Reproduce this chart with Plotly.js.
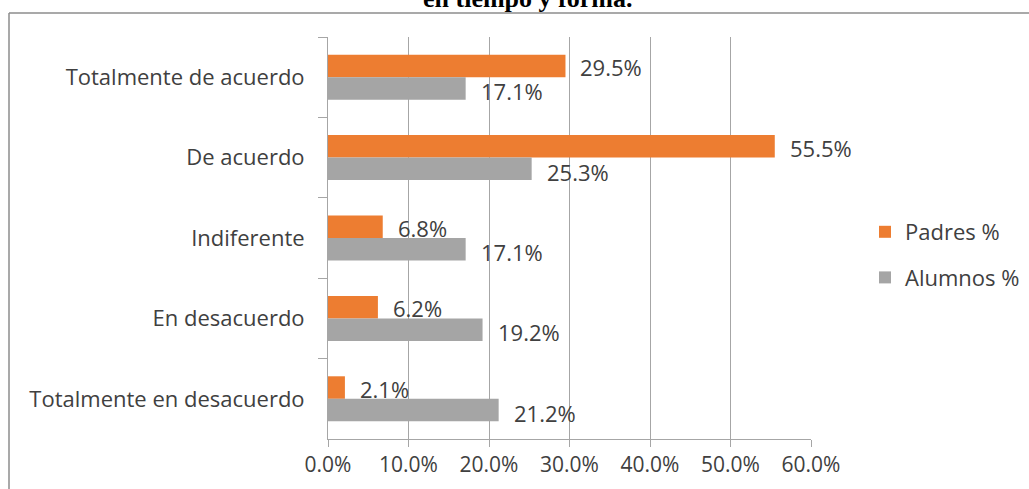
<!DOCTYPE html>
<html>
<head>
<meta charset="utf-8">
<script src="https://cdn.plot.ly/plotly-3.0.1.min.js"></script>
<style>html,body{margin:0;padding:0;background:#fff;}#chart{width:1029px;height:489px;}</style>
</head>
<body>
<div id="chart"></div>
<script>
const categories = ['Totalmente de acuerdo', 'De acuerdo', 'Indiferente', 'En desacuerdo', 'Totalmente en desacuerdo'];
const padres = [29.5, 55.5, 6.8, 6.2, 2.1];
const alumnos = [17.1, 25.3, 17.1, 19.2, 21.2];
const seriesNames = ['Padres %', 'Alumnos %'];
const xTicks = [0, 10, 20, 30, 40, 50, 60];
const titleText = 'en tiempo y forma.';

const FONT = 'Open Sans, Noto Sans, sans-serif';
const TXT = '#404040';
const ORANGE = '#ED7D31';
const GRAY = '#A5A5A5';

const L = 328, R = 811, T = 37, B = 439, W = 1029, H = 489;
const px = v => (v - L) / (R - L);
const py = v => (B - v) / (B - T);

const traces = [
  {type: 'bar', orientation: 'h', name: seriesNames[0], y: categories, x: padres,
   marker: {color: ORANGE}, legendgroup: 'a', hoverinfo: 'x+y'},
  {type: 'bar', orientation: 'h', name: seriesNames[1], y: categories, x: alumnos,
   marker: {color: GRAY}, legendgroup: 'b', hoverinfo: 'x+y'}
];

const annotations = [];
padres.forEach((v, i) => annotations.push({
  x: v, y: categories[i], xref: 'x', yref: 'y', text: v.toFixed(1) + '%',
  showarrow: false, xanchor: 'left', yanchor: 'middle', xshift: 13, yshift: 10,
  font: {family: FONT, size: 22, color: TXT}
}));
alumnos.forEach((v, i) => annotations.push({
  x: v, y: categories[i], xref: 'x', yref: 'y', text: v.toFixed(1) + '%',
  showarrow: false, xanchor: 'left', yanchor: 'middle', xshift: 13, yshift: -14,
  font: {family: FONT, size: 22, color: TXT}
}));
annotations.push({
  x: px(527), y: py(9), xref: 'paper', yref: 'paper', text: '<b>' + titleText + '</b>',
  showarrow: false, xanchor: 'center', yanchor: 'bottom', yshift: -6,
  font: {family: 'Liberation Serif, Times New Roman, serif', size: 26, color: '#000'}
});

const layout = {
  width: W, height: H,
  margin: {l: L, r: W - R, t: T, b: H - B, pad: 0},
  paper_bgcolor: '#fff', plot_bgcolor: '#fff',
  barmode: 'group', bargap: 0.44, bargroupgap: 0,
  font: {family: FONT, size: 22, color: TXT},
  showlegend: true,
  legend: {xref: 'container', yref: 'container', x: 865 / W, xanchor: 'left', y: 1 - 211 / H, yanchor: 'top',
           traceorder: 'grouped', tracegroupgap: 14,
           font: {family: FONT, size: 22, color: TXT}, bgcolor: 'rgba(0,0,0,0)'},
  xaxis: {range: [0, 60], tickvals: xTicks, ticktext: xTicks.map(v => v.toFixed(1) + '%'),
          showgrid: true, gridcolor: '#A6A6A6', gridwidth: 1,
          showline: true, linecolor: '#A6A6A6', linewidth: 1,
          ticks: 'outside', ticklen: 7, tickcolor: '#A6A6A6',
          zeroline: false, fixedrange: true, automargin: false,
          tickfont: {family: FONT, size: 21, color: TXT}},
  yaxis: {type: 'category', autorange: 'reversed', categoryorder: 'array', categoryarray: categories,
          showline: true, linecolor: '#A6A6A6', linewidth: 1,
          ticks: 'outside', ticklen: 9, tickcolor: '#A6A6A6', tickson: 'boundaries',
          ticklabelstandoff: 18, showgrid: false, zeroline: false, fixedrange: true, automargin: false,
          tickfont: {family: FONT, size: 22, color: TXT}},
  annotations: annotations,
  shapes: [
    {type: 'line', xref: 'paper', yref: 'paper', x0: px(9), x1: px(1035), y0: py(13), y1: py(13),
     line: {color: '#8C8C8C', width: 1.5}},
    {type: 'line', xref: 'paper', yref: 'paper', x0: px(9), x1: px(9), y0: py(13), y1: py(495),
     line: {color: '#8C8C8C', width: 1.5}}
  ]
};

Plotly.newPlot('chart', traces, layout, {displayModeBar: false, staticPlot: true});
</script>
</body>
</html>
